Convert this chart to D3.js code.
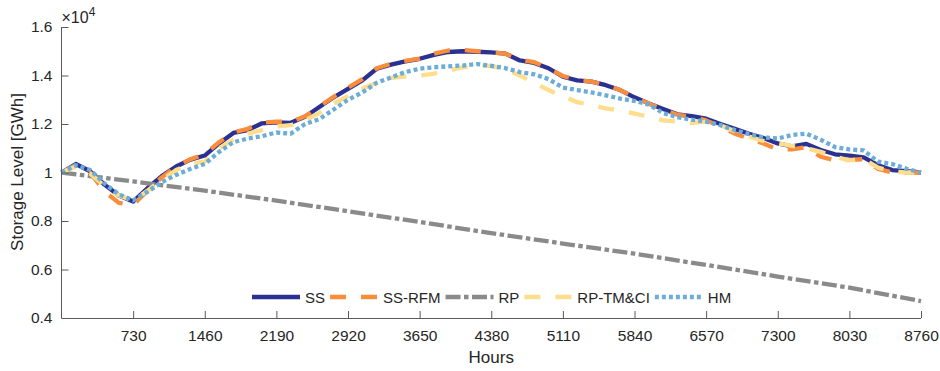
<!DOCTYPE html>
<html>
<head>
<meta charset="utf-8">
<script src="https://cdn.jsdelivr.net/npm/d3@7"></script>
<style>
  html, body { margin: 0; padding: 0; background: #fff; }
  svg { display: block; font-family: "Liberation Sans", Arial, Helvetica, sans-serif; }
</style>
</head>
<body>
<svg id="chart" width="940" height="371"></svg>
<script>
// ---- data (storage level in units of 10^4 GWh) ----
const hours = [0,146,292,438,584,730,876,1022,1168,1314,1460,1606,1752,1898,2044,2190,2336,2482,2628,2774,2920,3066,3212,3358,3504,3650,3796,3942,4088,4234,4380,4526,4672,4818,4964,5110,5256,5402,5548,5694,5840,5986,6132,6278,6424,6570,6716,6862,7008,7154,7300,7446,7592,7738,7884,8030,8176,8322,8468,8614,8760];

const ss = [1.0,1.035,1.005,0.95,0.905,0.88,0.935,0.985,1.025,1.053,1.07,1.12,1.163,1.175,1.203,1.207,1.205,1.23,1.27,1.31,1.345,1.38,1.428,1.445,1.458,1.469,1.485,1.497,1.5,1.498,1.495,1.49,1.462,1.452,1.43,1.395,1.38,1.375,1.36,1.34,1.31,1.285,1.262,1.24,1.232,1.222,1.2,1.18,1.16,1.142,1.12,1.108,1.118,1.093,1.075,1.07,1.062,1.03,1.01,1.006,1.0];

const ssRfm = [1.0,1.03,1.0,0.922,0.875,0.866,0.925,0.98,1.025,1.055,1.075,1.125,1.165,1.18,1.205,1.21,1.208,1.232,1.272,1.312,1.35,1.385,1.43,1.448,1.46,1.47,1.49,1.503,1.505,1.5,1.495,1.49,1.465,1.455,1.43,1.398,1.382,1.375,1.36,1.34,1.31,1.285,1.26,1.238,1.23,1.215,1.19,1.16,1.14,1.12,1.095,1.095,1.104,1.065,1.05,1.052,1.055,1.015,1.0,1.0,1.0];

const rpTmCi = [1.0,1.025,0.995,0.945,0.905,0.885,0.925,0.97,1.01,1.035,1.045,1.1,1.135,1.16,1.175,1.19,1.195,1.215,1.245,1.285,1.315,1.345,1.37,1.39,1.395,1.4,1.408,1.42,1.434,1.44,1.44,1.425,1.4,1.37,1.34,1.315,1.29,1.278,1.264,1.255,1.243,1.23,1.215,1.21,1.205,1.21,1.195,1.17,1.148,1.13,1.12,1.11,1.1,1.085,1.065,1.05,1.055,1.02,1.005,1.0,1.0];

const hm = [1.0,1.03,1.01,0.955,0.91,0.885,0.92,0.96,0.99,1.015,1.035,1.085,1.125,1.14,1.15,1.165,1.16,1.2,1.22,1.26,1.3,1.33,1.37,1.392,1.414,1.428,1.434,1.438,1.441,1.447,1.44,1.43,1.414,1.405,1.385,1.35,1.34,1.33,1.318,1.305,1.295,1.28,1.245,1.228,1.218,1.21,1.195,1.175,1.158,1.145,1.14,1.155,1.16,1.135,1.105,1.095,1.091,1.045,1.035,1.015,1.0];

const rpHours = [0,730,1460,2190,2920,3650,4380,5110,5840,6570,7300,8030,8760];
const rp = [1.0,0.963,0.925,0.884,0.84,0.796,0.75,0.707,0.665,0.619,0.571,0.525,0.47];

const xTicks = [730,1460,2190,2920,3650,4380,5110,5840,6570,7300,8030,8760];
const yTicks = [0.4,0.6,0.8,1.0,1.2,1.4,1.6];
const seriesNames = ["SS","SS-RFM","RP","RP-TM&CI","HM"];

// ---- styles ----
const styles = {
  "SS":       {color: "#2b3190", dash: null,              width: 4.3},
  "SS-RFM":   {color: "#f98d3c", dash: "16,15",           width: 4.3},
  "RP":       {color: "#8a8a8a", dash: "15,3.5,4.5,3.5",  width: 4.3},
  "RP-TM&CI": {color: "#fedd8c", dash: "16,15",           width: 4.3},
  "HM":       {color: "#6badd8", dash: "4,3",             width: 4.3}
};

const series = [
  {name: "SS", xs: hours, ys: ss},
  {name: "SS-RFM", xs: hours, ys: ssRfm},
  {name: "RP", xs: rpHours, ys: rp},
  {name: "RP-TM&CI", xs: hours, ys: rpTmCi},
  {name: "HM", xs: hours, ys: hm}
];

// ---- layout ----
const svg = d3.select("#chart");
const pLeft = 61.5, pRight = 921, pTop = 27, pBottom = 318;
const x = d3.scaleLinear().domain([0, 8760]).range([pLeft, pRight]);
const y = d3.scaleLinear().domain([0.4, 1.6]).range([pBottom, pTop]);
const textColor = "#262626";
const axisColor = "#5a5a5a";
const fontFam = '"Liberation Sans", Arial, sans-serif';

// lines
const line = d3.line().x(d => x(d[0])).y(d => y(d[1]));
const plot = svg.append("g");
series.forEach(s => {
  const st = styles[s.name];
  plot.append("path")
    .datum(s.xs.map((h, i) => [h, s.ys[i]]))
    .attr("d", line)
    .attr("fill", "none")
    .attr("stroke", st.color)
    .attr("stroke-width", st.width)
    .attr("stroke-linejoin", "round")
    .attr("stroke-dasharray", st.dash);
});

// axes
const xAxis = d3.axisBottom(x).tickValues(xTicks).tickSizeInner(-7).tickSizeOuter(0).tickPadding(12).tickFormat(d3.format("d"));
const gx = svg.append("g").attr("transform", `translate(0,${pBottom})`).call(xAxis);
const yAxis = d3.axisLeft(y).tickValues(yTicks).tickSizeInner(-7).tickSizeOuter(0).tickPadding(9)
  .tickFormat(d => d === 1 ? "1" : d3.format(".1f")(d));
const gy = svg.append("g").attr("transform", `translate(${pLeft},0)`).call(yAxis);

[gx, gy].forEach(g => {
  g.attr("font-family", fontFam);
  g.select(".domain").attr("stroke", axisColor).attr("stroke-width", 1);
  g.selectAll(".tick line").attr("stroke", axisColor).attr("stroke-width", 1);
  g.selectAll(".tick text").attr("fill", textColor).style("font-size", "15.5px");
});
gx.select(".domain").attr("d", `M${pLeft},0.5H${pRight}`);
gy.select(".domain").attr("d", `M0,${pBottom}V${pTop}`);
gx.selectAll(".tick text").attr("dy", "0.71em");

// exponent label
const expo = svg.append("text").attr("x", pLeft).attr("y", 23).attr("fill", textColor)
  .style("font-size", "16px");
expo.append("tspan").text("\u00d710");
expo.append("tspan").attr("dy", -7).style("font-size", "12px").text("4");

// axis labels
svg.append("text").attr("x", (pLeft + pRight) / 2).attr("y", 363).attr("text-anchor", "middle")
  .attr("fill", textColor).style("font-size", "17px").text("Hours");
svg.append("text").attr("transform", `translate(23,172) rotate(-90)`).attr("text-anchor", "middle")
  .attr("fill", textColor).style("font-size", "17px").text("Storage Level [GWh]");

// legend
const leg = svg.append("g");
let cx = 252;
const ly = 297;
seriesNames.forEach(name => {
  const st = styles[name];
  leg.append("line").attr("x1", cx).attr("x2", cx + 48).attr("y1", ly).attr("y2", ly)
    .attr("stroke", st.color).attr("stroke-width", st.width).attr("stroke-dasharray", st.dash);
  const t = leg.append("text").attr("x", cx + 53).attr("y", ly + 5.5).attr("fill", textColor)
    .style("font-size", "15px").text(name);
  cx = cx + 53 + t.node().getComputedTextLength() + 5;
});
</script>
</body>
</html>
